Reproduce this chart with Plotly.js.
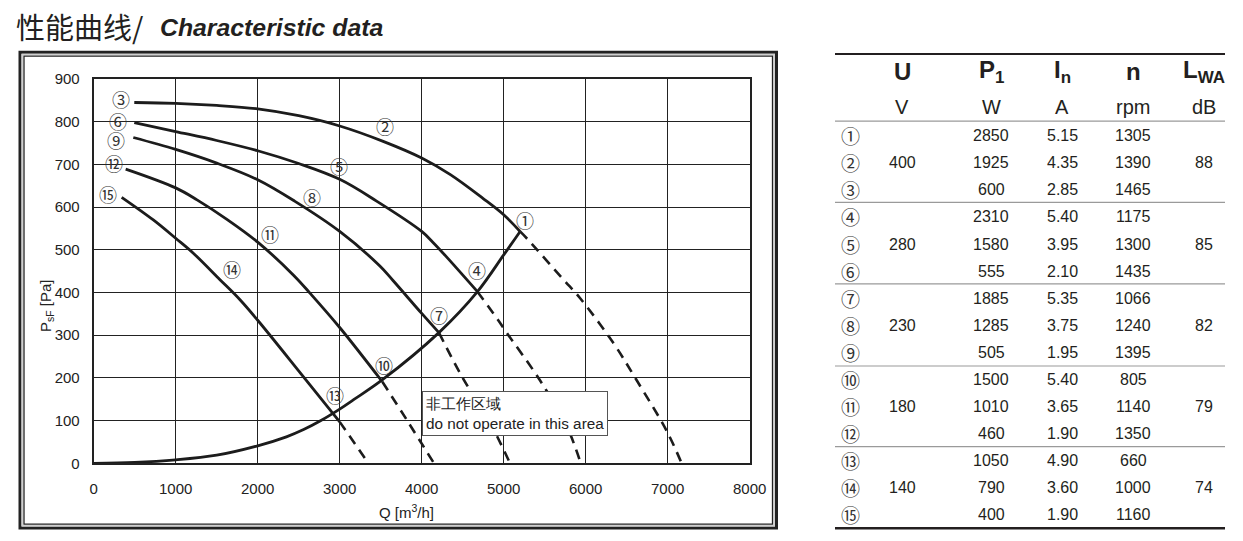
<!DOCTYPE html>
<html><head><meta charset="utf-8">
<script src="https://cdn.plot.ly/plotly-3.0.1.min.js"></script>
<style>html,body{margin:0;padding:0;background:#fff;} #chart{width:1243px;height:541px;}</style>
</head><body><div id="chart"></div>
<script>
// ---------- Curve data (Q in m3/h, P in Pa) ----------
// 400 V (③ ② ①)
const q400 = [495, 1000, 1500, 2000, 2500, 3000, 3530, 4000, 4350, 4750, 5000, 5200];
const p400 = [845, 843, 838, 830, 814, 790, 754, 715, 676, 620, 582, 543];
const q400d = [5200, 5300, 5730, 5930, 6340, 6620, 6990, 7170];
const p400d = [543, 523, 430, 387, 281, 195, 75, 0];
// 280 V (⑥ ⑤ ④)
const q280 = [495, 1000, 1500, 2000, 2500, 3000, 3450, 4000, 4150, 4300, 4680];
const p280 = [798, 777, 756, 732, 702, 665, 614, 543, 515, 484, 402];
const q280d = [4680, 4915, 5040, 5440, 5770, 5940];
const p280d = [402, 340, 305, 195, 86, 0];
// 230 V (⑨ ⑧ ⑦)
const q230 = [483, 1000, 1500, 2000, 2450, 3000, 3490, 3650, 4000, 4210];
const p230 = [763, 735, 703, 664, 614, 543, 462, 428, 351, 306];
const q230d = [4210, 4500, 4820, 5077];
const p230d = [306, 200, 100, 0];
// 180 V (⑫ ⑪ ⑩)
const q180 = [390, 1000, 1260, 1620, 2000, 2440, 2640, 3000, 3520];
const p180 = [689, 645, 617, 572, 518, 440, 398, 318, 191];
const q180d = [3520, 3820, 4150];
const p180d = [191, 101, 0];
// 140 V (⑮ ⑭ ⑬)
const q140 = [341, 727, 1000, 1215, 1540, 1784, 2000, 2556, 3000];
const p140 = [623, 570, 527, 492, 430, 383, 335, 203, 97];
const q140d = [3000, 3350];
const p140d = [97, 0];
// system / operating limit line
const qSys = [0, 500, 1000, 1500, 2000, 2350, 2560, 2760, 3000, 3170, 3510, 4210, 4680, 5000, 5200];
const pSys = [0, 2, 8, 19, 41, 62, 79, 99, 127, 149, 194, 306, 402, 488, 543];

// curve labels
const labelText = ['①','②','③','④','⑤','⑥','⑦','⑧','⑨','⑩','⑪','⑫','⑬','⑭','⑮'];
const labelQ = [5260, 3552, 329, 4670, 2995, 300, 4215, 2658, 272, 3544, 2150, 248, 2943, 1690, 178];
const labelP = [569, 789, 853, 453, 697, 802, 348, 623, 758, 230, 537, 703, 160, 455, 630];

// axis ticks
const xTicks = [0, 1000, 2000, 3000, 4000, 5000, 6000, 7000, 8000];
const yTicks = [0, 100, 200, 300, 400, 500, 600, 700, 800, 900];

// ---------- Table data ----------
const headSym = ['U', 'P', 'I', 'n', 'L'];
const headSub = ['', '1', 'n', '', 'WA'];
const headUnit = ['V', 'W', 'A', 'rpm', 'dB'];
const voltage = [400, 280, 230, 180, 140];
const noise = [88, 85, 82, 79, 74];
const power = [2850, 1925, 600, 2310, 1580, 555, 1885, 1285, 505, 1500, 1010, 460, 1050, 790, 400];
const current = [5.15, 4.35, 2.85, 5.40, 3.95, 2.10, 5.35, 3.75, 1.95, 5.40, 3.65, 1.90, 4.90, 3.60, 1.90];
const speed = [1305, 1390, 1465, 1175, 1300, 1435, 1066, 1240, 1395, 805, 1140, 1350, 660, 1000, 1160];

// ---------- Layout helpers ----------
const W = 1243, H = 541;
const px = x => x / W, py = y => 1 - y / H;
const INK = '#1c1c1c';
const SANS = 'Liberation Sans, Arial, sans-serif';
const CJK = 'Noto Sans CJK SC, sans-serif';
const dashPat = '10px,7px';

const traces = [];
const solid = [[q400,p400],[q280,p280],[q230,p230],[q180,p180],[q140,p140],[qSys,pSys]];
const dashed = [[q400d,p400d],[q280d,p280d],[q230d,p230d],[q180d,p180d],[q140d,p140d]];
solid.forEach(([q,p]) => traces.push({x:q, y:p, type:'scatter', mode:'lines', xaxis:'x', yaxis:'y',
  line:{color:INK, width:2.8, shape:'spline', smoothing:1}, hoverinfo:'skip', showlegend:false}));
dashed.forEach(([q,p]) => traces.push({x:q, y:p, type:'scatter', mode:'lines', xaxis:'x', yaxis:'y',
  line:{color:INK, width:2.6, dash:dashPat, shape:'spline', smoothing:1}, hoverinfo:'skip', showlegend:false}));
// invisible anchor trace for table axes
traces.push({x:[900], y:[0], xaxis:'x2', yaxis:'y2', mode:'markers', marker:{opacity:0}, hoverinfo:'skip', showlegend:false});

const ann = [];
const A = o => ann.push(Object.assign({showarrow:false, xanchor:'center', yanchor:'middle'}, o));
// curve labels
labelText.forEach((t,i) => A({x:labelQ[i], y:labelP[i], xref:'x', yref:'y', text:t,
  font:{family:CJK, size:18, color:'#333'}}));
// non-operating box
A({x:4007, y:170, xref:'x', yref:'y', xanchor:'left', yanchor:'top', align:'left',
  text:'非工作区域<br>do not operate in this area', bgcolor:'#fff',
  bordercolor:'#555', borderwidth:1, borderpad:3, font:{family:SANS, size:15.3, color:'#222'}});
// axis titles
A({x:px(406), y:py(511), xref:'paper', yref:'paper', text:'Q [m<sup>3</sup>/h]',
  font:{family:SANS, size:15, color:'#222'}});
A({x:px(46), y:py(306), xref:'paper', yref:'paper', text:'P<sub>sF</sub> [Pa]', textangle:-90,
  font:{family:SANS, size:15, color:'#222'}});
// page title
A({x:px(14), y:py(26), xref:'paper', yref:'paper', xanchor:'left', text:'性能曲线/',
  font:{family:CJK, size:29, color:'#231f20'}});
A({x:px(158), y:py(28), xref:'paper', yref:'paper', xanchor:'left', text:'<b><i>Characteristic data</i></b>',
  font:{family:SANS, size:24.8, color:'#231f20'}});

// table (x2: pixel-like column scale, y2: row index scale)
const colX = [850, 902, 991, 1062, 1133, 1204];
const tFont = {family:SANS, size:16, color:'#231f20'};
headSym.forEach((t,c) => {
  const sub = headSub[c] ? '<sub><span style="font-size:17px">' + headSub[c] + '</span></sub>' : '';
  A({x:colX[c+1], y:-2.36, xref:'x2', yref:'y2', text:'<b>' + t + sub + '</b>',
    font:{family:SANS, size:24, color:'#231f20'}});
});
headUnit.forEach((t,c) => A({x:colX[c+1], y:-1.07, xref:'x2', yref:'y2', text:t,
  font:{family:SANS, size:20, color:'#231f20'}}));
labelText.forEach((t,r) => {
  A({x:colX[0], y:r, xref:'x2', yref:'y2', text:t, font:{family:CJK, size:19, color:'#333'}});
  A({x:colX[2], y:r, xref:'x2', yref:'y2', text:String(power[r]), font:tFont});
  A({x:colX[3], y:r, xref:'x2', yref:'y2', text:current[r].toFixed(2), font:tFont});
  A({x:colX[4], y:r, xref:'x2', yref:'y2', text:String(speed[r]), font:tFont});
});
voltage.forEach((v,g) => {
  A({x:colX[1], y:g*3+1, xref:'x2', yref:'y2', text:String(v), font:tFont});
  A({x:colX[5], y:g*3+1, xref:'x2', yref:'y2', text:String(noise[g]), font:tFont});
});

const shapes = [];
// table rules
const hline = (y, w, c) => shapes.push({type:'line', xref:'x2', yref:'y2', x0:835, x1:1225, y0:y, y1:y, line:{color:c, width:w}});
hline(-3.02, 2, '#231f20');
hline(-0.54, 1.2, '#9a9a9a');
[2.46, 5.47, 8.5, 11.48].forEach(y => hline(y, 1.2, '#9a9a9a'));
hline(14.49, 2.5, '#231f20');
// chart frame (double border)
shapes.push({type:'rect', xref:'paper', yref:'paper', x0:px(20), x1:px(776.5), y0:py(528), y1:py(52.3), line:{color:'#222', width:3}});
shapes.push({type:'rect', xref:'paper', yref:'paper', x0:px(22.3), x1:px(774.2), y0:py(525.7), y1:py(54.5), line:{color:'#cfcfcf', width:1.5}});
shapes.push({type:'rect', xref:'paper', yref:'paper', x0:px(24), x1:px(772.5), y0:py(524.2), y1:py(56.2), line:{color:'#222', width:1.3}});

const layout = {
  width:W, height:H, margin:{l:0, r:0, t:0, b:0},
  paper_bgcolor:'#fff', plot_bgcolor:'rgba(0,0,0,0)', showlegend:false,
  font:{family:SANS, color:'#222'},
  xaxis:{domain:[px(93.7), px(749.7)], range:[0,8000], tickvals:xTicks, ticktext:xTicks.map(String),
    showgrid:true, gridcolor:'#222', gridwidth:1.1, showline:true, linecolor:'#222', linewidth:2, mirror:true,
    zeroline:false, ticks:'', ticklabelstandoff:11, tickfont:{family:SANS, size:15, color:'#222'}, fixedrange:true, anchor:'y'},
  yaxis:{domain:[py(463.3), py(79)], range:[0,900], tickvals:yTicks, ticktext:yTicks.map(String),
    showgrid:true, gridcolor:'#222', gridwidth:1.1, showline:true, linecolor:'#222', linewidth:2, mirror:true,
    zeroline:false, ticks:'', ticklabelstandoff:9, tickfont:{family:SANS, size:15, color:'#222'}, fixedrange:true, anchor:'x'},
  xaxis2:{domain:[px(830), 1], range:[830, W], visible:false, fixedrange:true, anchor:'y2'},
  yaxis2:{domain:[0,1], range:[14.96,-5.009], visible:false, fixedrange:true, anchor:'x2'},
  annotations:ann, shapes:shapes
};
Plotly.newPlot('chart', traces, layout, {staticPlot:true, displayModeBar:false});
</script></body></html>
